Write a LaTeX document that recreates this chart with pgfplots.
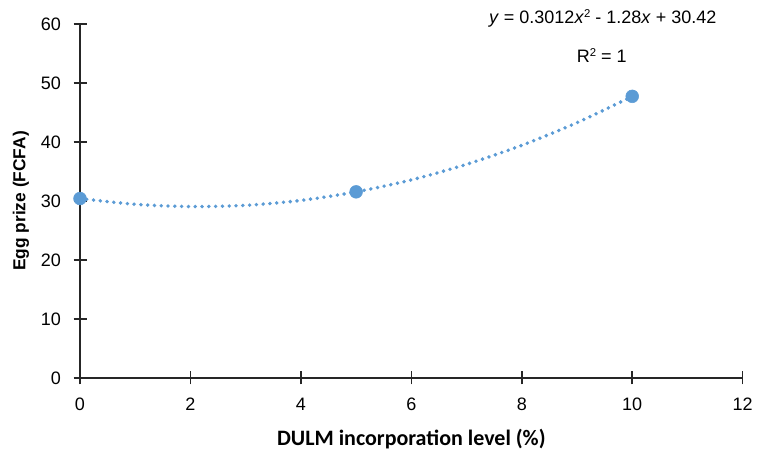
\documentclass[border=0pt]{standalone}
\usepackage{pgfplots}
\pgfplotsset{compat=1.18}
\usepackage{fontspec}
\setmainfont{Liberation Sans}
\newfontfamily\calibri{Carlito}
\definecolor{xlblue}{HTML}{5B9BD5}
\newcommand{\sq}{\raisebox{0.6ex}{\fontsize{8.5}{9}\selectfont 2}}
\begin{document}
\begin{tikzpicture}
\path[use as bounding box] (-60pt,-55.5pt) rectangle (510pt,283.5pt);
\begin{axis}[
  scale only axis,
  width=497pt, height=265.5pt,
  xmin=0, xmax=12, ymin=0, ymax=60,
  xtick={0,2,...,12}, ytick={0,10,...,60},
  axis lines*=left,
  axis line style={line width=1.1pt, black!85, -},
  tick style={line width=1.1pt, black!85},
  tick align=center,
  major tick length=9.75pt,
  clip=false,
  /pgf/number format/assume math mode=true,
  yticklabel style={font=\fontsize{13.5}{15}\selectfont, xshift=-6pt},
  xticklabel style={font=\fontsize{13.5}{15}\selectfont, yshift=-6.5pt},
  xlabel={\calibri\bfseries DULM incorporation level (\%)},
  ylabel={\bfseries Egg prize (FCFA)},
  xlabel style={font=\fontsize{16.5}{18}\selectfont, yshift=-7pt},
  ylabel style={font=\fontsize{13}{15}\selectfont, yshift=2pt},
]
\addplot[smooth, color=xlblue, line width=2.9pt, line cap=round, dash pattern=on 0pt off 5.1pt]
  coordinates {(0,30.42) (1,29.44) (2,29.06) (3,29.27) (4,30.10) (5,31.55) (6,33.58) (7,36.22) (8,39.44) (9,43.28) (10,47.74)};
\addplot[only marks, mark=*, mark size=4.8pt, color=xlblue, mark options={fill=xlblue}]
  coordinates {(0,30.42) (5,31.55) (10,47.74)};
\node[font=\fontsize{13.5}{15}\selectfont] at (axis cs:9.466,61.0) {\textit{y} = 0.3012\textit{x}\sq{} - 1.28\textit{x} + 30.42};
\node[font=\fontsize{13.5}{15}\selectfont] at (axis cs:9.448,54.7) {R\sq{} = 1};
\end{axis}
\end{tikzpicture}
\end{document}
